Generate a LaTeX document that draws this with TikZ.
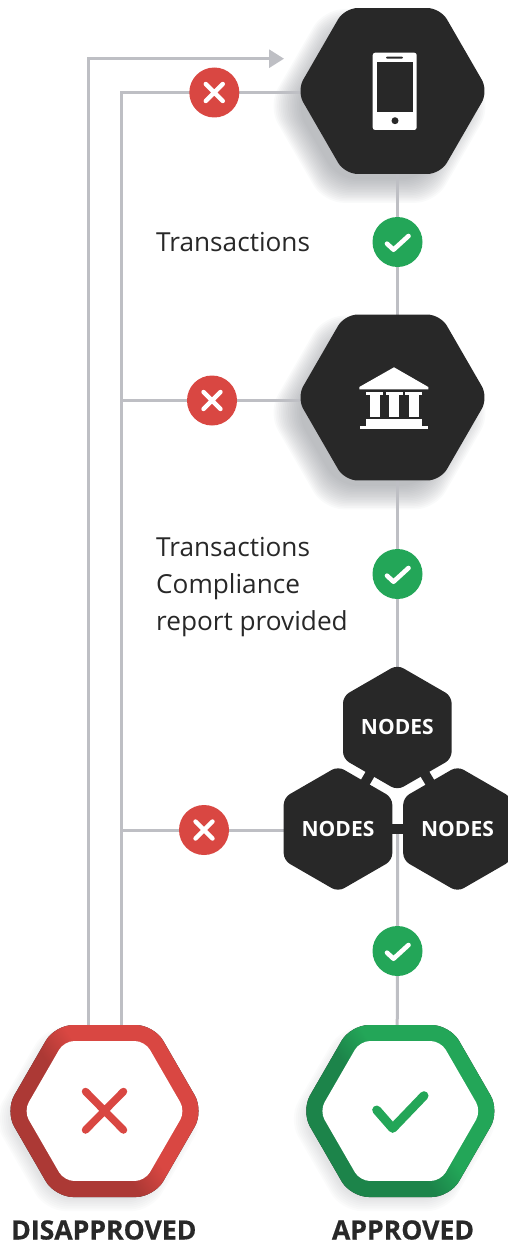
\documentclass[tikz,border=0pt]{standalone}
\usepackage{fontspec}
\setmainfont{Open Sans}
\newfontfamily\heavyfont{Open Sans}[BoldFeatures={FakeBold=0.5}]
\usetikzlibrary{shapes.geometric,arrows.meta,backgrounds,calc}
\definecolor{hex_dark}{RGB}{40, 40, 40}
\definecolor{wire_grey}{RGB}{190, 191, 196}
\definecolor{shadow_grey}{RGB}{125, 128, 135}
\definecolor{no_red}{RGB}{217, 71, 66}
\definecolor{no_red_dark}{RGB}{172, 57, 53}
\definecolor{ok_green}{RGB}{35, 166, 88}
\definecolor{ok_green_dark}{RGB}{28, 132, 74}
\pgfdeclareverticalshading{ring_red}{100bp}{color(0bp)=(no_red_dark); color(45bp)=(no_red_dark); color(54bp)=(no_red); color(100bp)=(no_red)}
\pgfdeclareverticalshading{ring_green}{100bp}{color(0bp)=(ok_green_dark); color(45bp)=(ok_green_dark); color(54bp)=(ok_green); color(100bp)=(ok_green)}
\tikzset{
    hexflat/.style={regular polygon, regular polygon sides=6,
        inner sep=0pt, outer sep=0pt, fill=hex_dark},
    hexpoint/.style={regular polygon, regular polygon sides=6, shape border rotate=30, inner sep=0pt, outer sep=0pt,
        fill=hex_dark, minimum size=125.4pt, rounded corners=7pt, text=white,
        font=\fontsize{21}{24}\selectfont\bfseries},
    bighex/.style={hexflat, minimum size=191.6pt, rounded corners=13pt},
    ringhex/.style={hexflat, minimum size=198.6pt, rounded corners=18pt},
    innerhex/.style={hexflat, minimum size=161.6pt, rounded corners=10pt, fill=white},
    wire/.style={draw=wire_grey, line width=3pt},
    badge/.style={circle, inner sep=0pt, outer sep=0pt, minimum size=50pt},
    nobadge/.style={badge, fill=no_red},
    okbadge/.style={badge, fill=ok_green},
    plaintext/.style={anchor=west, align=left, inner sep=0pt, text=hex_dark, font=\fontsize{26.2}{37}\selectfont},
    boldtext/.style={inner sep=0pt, text=hex_dark, font=\heavyfont\fontsize{26.6}{30}\selectfont\bfseries},
    nomark/.pic={
        \draw[white, line width=4.4pt, line cap=round] (-8.5,-8.5) -- (8.5,8.5) (-8.5,8.5) -- (8.5,-8.5);
    },
    okmark/.pic={
        \draw[white, line width=4.6pt, line cap=round, line join=round] (-10.5,1.7) -- (-4,7.7) -- (11,-6);
    }
}
% soft shadow: stacked polygons
\newcommand{\softshadow}[4]{%
    \foreach \i in {0,...,15} {
        \node[hexflat, fill=shadow_grey, opacity=0.042, minimum size={(#4+32-\i*3.6)*1pt},
            rounded corners=20pt] (shadow#1\i) at ($(#2)+(#3)$) {};
    }
}
\begin{document}
\begin{tikzpicture}[x=1pt, y=-1pt]
    \useasboundingbox (0,0) rectangle (507,1244);
    \coordinate (spine) at (397,0);
    \coordinate (busA) at (88,0);
    \coordinate (busB) at (121.5,0);
    \coordinate (arrowend) at (284,58.7);

    % big hexagons
    \node[bighex] (phone) at (392.5,91) {};
    \node[bighex] (bank) at (392.5,397.5) {};

    % nodes cluster
    \node[hexpoint] (nodestop) at (397.3,727.5) {\raisebox{2pt}{NODES}};
    \node[hexpoint] (nodesleft) at (338,829) {\raisebox{0.5pt}{NODES}};
    \node[hexpoint] (nodesright) at (457.5,829) {\raisebox{0.5pt}{NODES}};
    \coordinate (nodesjoin) at ($(nodesleft)!0.5!(nodesright)$);

    % outcome rings
    \node[ringhex, shade, shading=ring_red, shading angle=-55] (disapproved) at (104.5,1111) {};
    \node[innerhex] (disapprovedin) at (disapproved) {};
    \node[ringhex, shade, shading=ring_green, shading angle=-55] (approved) at (400.3,1111) {};
    \node[innerhex] (approvedin) at (approved) {};

    \begin{scope}[on background layer]
        \softshadow{P}{phone}{-13,15}{191.6}
        \softshadow{B}{bank}{-13,15}{191.6}
        \foreach \i in {0,...,7} {
            \node[hexflat, fill=shadow_grey, opacity=0.03, minimum size={(198.6+14-\i*4)*1pt},
                rounded corners=20pt] (shadowD\i) at ($(disapproved)+(-6,8)$) {};
            \node[hexflat, fill=shadow_grey, opacity=0.03, minimum size={(198.6+14-\i*4)*1pt},
                rounded corners=20pt] (shadowA\i) at ($(approved)+(-6,8)$) {};
        }
        % connectors
        \draw[wire] (spine |- phone.center) -- (spine |- nodestop.center);
        \draw[wire] (nodesjoin) -- (spine |- approved.center);
        \draw[wire] (phone.center |- 0,92.5) -| ([xshift=17pt]disapproved.center);
        \draw[wire] (bank.center |- 0,400.5) -- (busB |- 0,400.5);
        \draw[wire] (nodesleft.center |- 0,830) -- (busB |- 0,830);
        \draw[wire, -{Triangle[length=15pt, width=18pt]}] ([xshift=-16.5pt]disapproved.center) |- (arrowend);
        % bridges between the three hexagons
        \draw[hex_dark, line width=10pt] (nodesleft.center) -- (nodesright.center);
        \draw[hex_dark, line width=10pt] (nodesleft.center) -- (nodestop.center);
        \draw[hex_dark, line width=10pt] (nodesright.center) -- (nodestop.center);
    \end{scope}

    % phone icon
    \fill[white, rounded corners=2.5pt] (372.7,52.7) rectangle (416.7,130);
    \fill[hex_dark] (377,62) rectangle (412.7,112);
    \fill[hex_dark, rounded corners=1pt] (386,56.7) rectangle (403,58.7);
    \fill[hex_dark] (395,120.7) circle (3.5);

    % bank icon
    \fill[white] (394,367.3) -- (428.3,387) -- (428.3,389.3) -- (359.3,389.3) -- (359.3,387) -- cycle;
    \foreach \cx in {374.7,394.2,413.7} {
        \fill[white] (\cx-8.3,392.3) rectangle (\cx+8.3,394.7);
        \fill[white] (\cx-5.2,394.7) rectangle (\cx+5.2,416.7);
    }
    \fill[white] (365.7,419.3) rectangle (422.3,425.7);
    \fill[white] (360,426.3) rectangle (428.3,428.7);

    % badges
    \node[nobadge] (noA) at (214.3,92.5) {};
    \node[nobadge] (noB) at (212,400.5) {};
    \node[nobadge] (noC) at (204,830) {};
    \node[okbadge] (okA) at (397.5,242) {};
    \node[okbadge] (okB) at (397.5,574) {};
    \node[okbadge] (okC) at (397.5,951) {};
    \foreach \n in {noA,noB,noC} { \pic at (\n) {nomark}; }
    \foreach \n in {okA,okB,okC} { \pic at (\n) {okmark}; }

    % ring marks
    \draw[no_red, line width=7.5pt, line cap=round] (85.5,1091.5) -- (123.5,1130) (85.5,1130) -- (123.5,1091.5);
    \draw[ok_green, line width=9pt, line cap=round, line join=round] (376.7,1110) -- (392.7,1128.3) -- (424,1095.7);

    % labels
    \node[plaintext] (txtA) at (156,242) {Transactions};
    \node[plaintext] (txtB) at (156,587) {Transactions\\Compliance\\report provided};
    \node[boldtext] (lblno) at (103.8,1230) {DISAPPROVED};
    \node[boldtext] (lblok) at (403,1230) {APPROVED};
\end{tikzpicture}
\end{document}
